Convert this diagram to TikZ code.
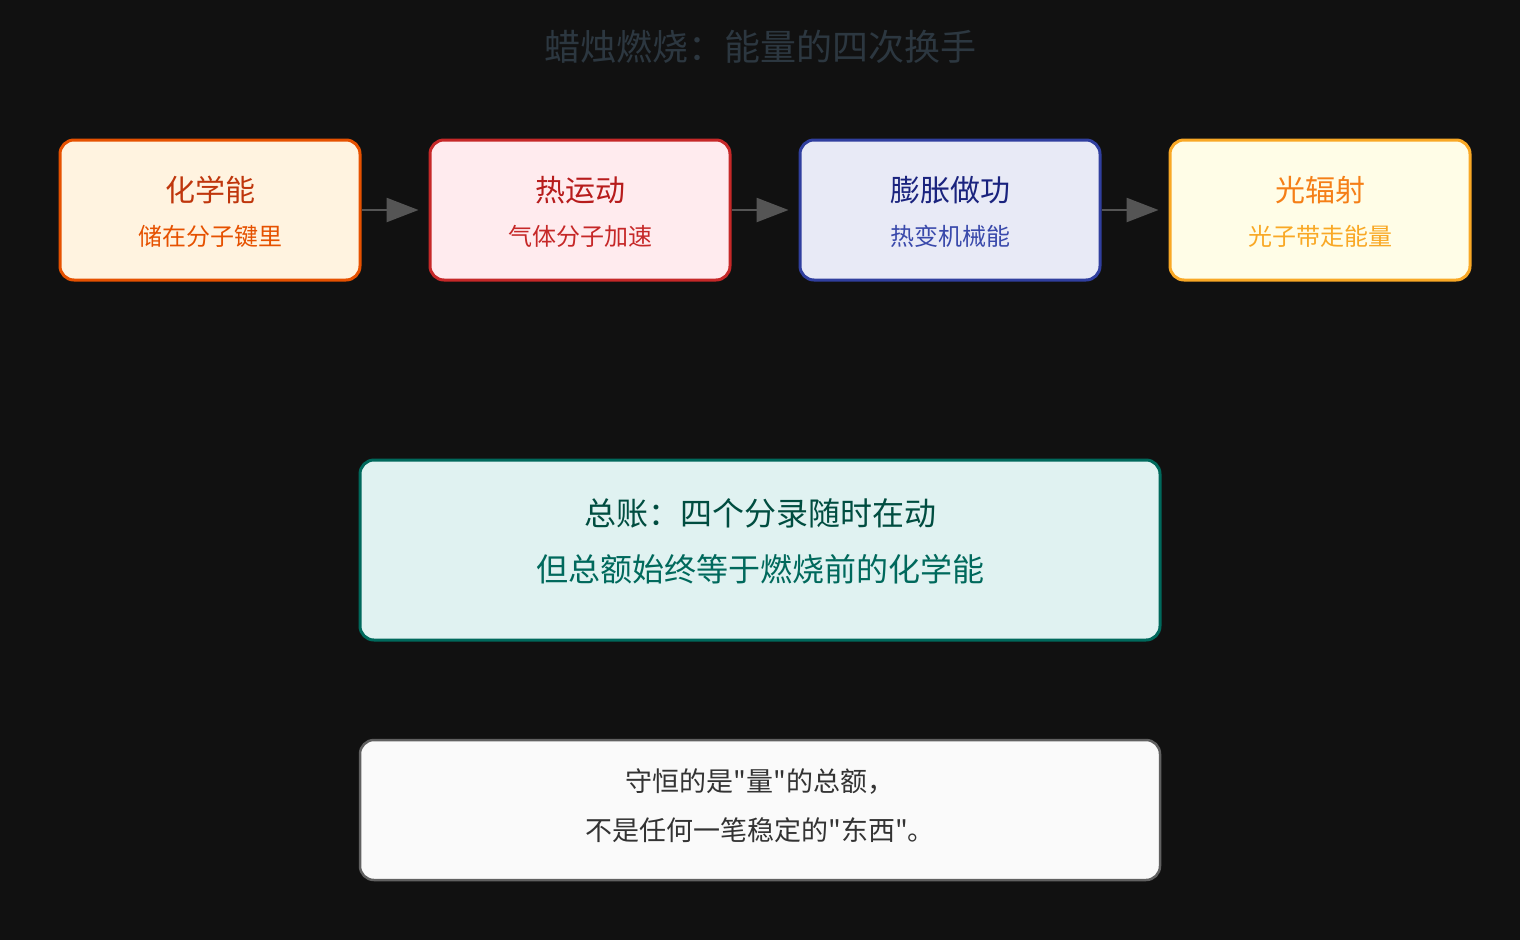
\documentclass[tikz,border=0pt]{standalone}
\usepackage{fontspec}
\setmainfont{Noto Sans CJK SC}[Ligatures=TeXOff]
\usetikzlibrary{arrows.meta}
\definecolor{bg}{HTML}{111111}
\definecolor{ttl}{HTML}{2C3740}
\definecolor{fA}{HTML}{FFF3E0}\definecolor{bA}{HTML}{E65100}\definecolor{tA}{HTML}{BF360C}
\definecolor{fB}{HTML}{FFEBEE}\definecolor{bB}{HTML}{C62828}\definecolor{tB}{HTML}{B71C1C}
\definecolor{fC}{HTML}{E8EAF6}\definecolor{bC}{HTML}{303F9F}\definecolor{tC}{HTML}{1A237E}\definecolor{sC}{HTML}{3949AB}
\definecolor{fD}{HTML}{FFFDE7}\definecolor{bD}{HTML}{F9A825}\definecolor{tD}{HTML}{F57F17}
\definecolor{fE}{HTML}{E0F2F1}\definecolor{bE}{HTML}{00695C}\definecolor{tE}{HTML}{004D40}
\definecolor{fF}{HTML}{FAFAFA}\definecolor{bF}{HTML}{616161}\definecolor{tF}{HTML}{333333}
\definecolor{arr}{HTML}{555555}
\tikzset{
  stagebox/.style={draw, line width=3pt, rounded corners=14pt, minimum width=300pt, minimum height=140pt, inner sep=0pt},
  flowarrow/.style={draw=arr, line width=2.5pt, -{Triangle[length=32pt,width=24pt]}, shorten >=10pt},
  bigtxt/.style={font=\fontsize{30}{36}\selectfont, inner sep=0pt, anchor=center},
  subtxt/.style={font=\fontsize{24}{30}\selectfont, inner sep=0pt, anchor=center},
}
\begin{document}
\begin{tikzpicture}[x=1pt,y=-1pt]
\fill[bg] (0,0) rectangle (1520,940);
\useasboundingbox (0,0) rectangle (1520,940);
\node[font=\fontsize{36}{40}\selectfont, text=ttl, inner sep=0pt] (title) at (760,47) {蜡烛燃烧：能量的四次换手};

\node[stagebox, draw=bA, fill=fA] (b1) at (210,210) {};
\node[stagebox, draw=bB, fill=fB] (b2) at (580,210) {};
\node[stagebox, draw=bC, fill=fC] (b3) at (950,210) {};
\node[stagebox, draw=bD, fill=fD] (b4) at (1320,210) {};

\node[bigtxt, text=tA] (t1) at (210,190) {化学能};
\node[subtxt, text=bA] (s1) at (210,236) {储在分子键里};
\node[bigtxt, text=tB] (t2) at (580,190) {热运动};
\node[subtxt, text=bB] (s2) at (580,236) {气体分子加速};
\node[bigtxt, text=tC] (t3) at (950,190) {膨胀做功};
\node[subtxt, text=sC] (s3) at (950,236) {热变机械能};
\node[bigtxt, text=tD] (t4) at (1320,190) {光辐射};
\node[subtxt, text=bD] (s4) at (1320,236) {光子带走能量};

\draw[flowarrow] (b1.east) -- (b2.west);
\draw[flowarrow] (b2.east) -- (b3.west);
\draw[flowarrow] (b3.east) -- (b4.west);

\node[draw=bE, fill=fE, line width=3pt, rounded corners=14pt, minimum width=800pt, minimum height=180pt, inner sep=0pt] (sum) at (760,550) {};
\node[font=\fontsize{32}{38}\selectfont, text=tE, inner sep=0pt] (sum1) at (760,513) {总账：四个分录随时在动};
\node[font=\fontsize{32}{38}\selectfont, text=bE, inner sep=0pt] (sum2) at (760,569) {但总额始终等于燃烧前的化学能};

\node[draw=bF, fill=fF, line width=2.5pt, rounded corners=14pt, minimum width=800pt, minimum height=140pt, inner sep=0pt] (note) at (760,810) {};
\node[font=\fontsize{27}{32}\selectfont, text=tF, inner sep=0pt] (n1) at (760,782) {守恒的是"量"的总额，};
\node[font=\fontsize{27}{32}\selectfont, text=tF, inner sep=0pt] (n2) at (760,830) {不是任何一笔稳定的"东西"。};
\end{tikzpicture}
\end{document}
